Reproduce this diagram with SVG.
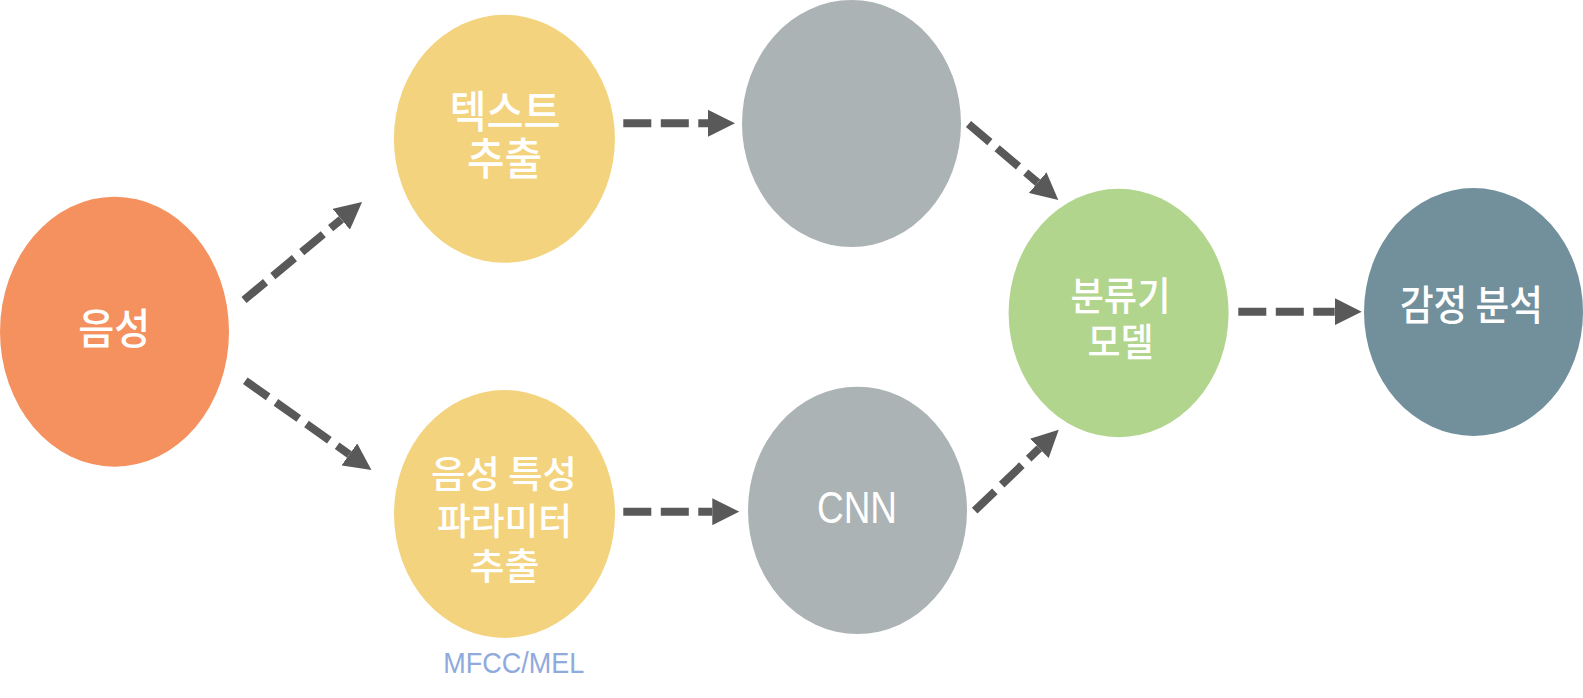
<svg xmlns="http://www.w3.org/2000/svg" width="1583" height="698" viewBox="0 0 1583 698">
<defs>
<marker id="ah" markerUnits="userSpaceOnUse" markerWidth="27" markerHeight="27" refX="0" refY="13.5" orient="auto">
<path d="M0,0 L27,13.5 L0,27 Z" fill="#595959"/>
</marker>
<style>
.kr{font-family:"Noto Sans CJK KR","Noto Sans",sans-serif;font-weight:500;fill:#ffffff;text-anchor:middle}
.en{font-family:"Liberation Sans",Arial,sans-serif;text-anchor:middle}
.conn line{stroke:#595959;stroke-width:8;stroke-dasharray:28 9.5;fill:none;marker-end:url(#ah)}
</style>
</defs>
<rect width="1583" height="698" fill="#ffffff"/>
<g class="conn" id="connectors">
<line x1="244" y1="300" x2="341.3" y2="219.3"/>
<line x1="245.3" y1="380.7" x2="349.4" y2="454.4"/>
<line x1="623.3" y1="123.3" x2="708" y2="123.3"/>
<line x1="623.3" y1="511.7" x2="712.3" y2="511.7"/>
<line x1="968.5" y1="124" x2="1037.7" y2="182.6"/>
<line x1="974.7" y1="510.7" x2="1039.3" y2="448.4"/>
<line x1="1238.3" y1="311.7" x2="1334.7" y2="311.7"/>
</g>
<g id="node-voice">
<ellipse cx="114.5" cy="331.7" rx="114.5" ry="135" fill="#F5905F"/>
<text class="kr" x="114.2" y="343.6" font-size="42" textLength="72" lengthAdjust="spacingAndGlyphs">음성</text>
</g>
<g id="node-text-extract">
<ellipse cx="504.4" cy="138.8" rx="110.5" ry="124" fill="#F3D37E"/>
<text class="kr" font-size="44"><tspan x="505" y="128" textLength="111" lengthAdjust="spacingAndGlyphs">텍스트</tspan><tspan x="504.5" y="174.5" textLength="75" lengthAdjust="spacingAndGlyphs">추출</tspan></text>
</g>
<g id="node-feature-extract">
<ellipse cx="504.5" cy="514" rx="110.5" ry="124" fill="#F3D37E"/>
<text class="kr" font-size="37"><tspan x="504" y="488" textLength="146" lengthAdjust="spacingAndGlyphs">음성 특성</tspan><tspan x="504.5" y="535" textLength="135" lengthAdjust="spacingAndGlyphs">파라미터</tspan><tspan x="504.5" y="580" textLength="70" lengthAdjust="spacingAndGlyphs">추출</tspan></text>
</g>
<text class="en" x="513.8" y="673.3" font-size="28.8" fill="#8FAADC" textLength="141" lengthAdjust="spacingAndGlyphs">MFCC/MEL</text>
<g id="node-gray-top">
<ellipse cx="851.5" cy="123.5" rx="109.5" ry="123.5" fill="#ABB3B5"/>
</g>
<g id="node-cnn">
<ellipse cx="857.5" cy="510.4" rx="109.5" ry="123.7" fill="#ABB3B5"/>
<text class="en" x="857" y="522.7" font-size="44.7" fill="#ffffff" textLength="80" lengthAdjust="spacingAndGlyphs">CNN</text>
</g>
<g id="node-classifier">
<ellipse cx="1118.6" cy="313" rx="110" ry="124.2" fill="#B2D58D"/>
<text class="kr" font-size="39"><tspan x="1120.5" y="309.8" textLength="100" lengthAdjust="spacingAndGlyphs">분류기</tspan><tspan x="1120.5" y="356.4" textLength="66" lengthAdjust="spacingAndGlyphs">모델</tspan></text>
</g>
<g id="node-emotion">
<ellipse cx="1473.5" cy="312" rx="109.5" ry="124" fill="#728F9C"/>
<text class="kr" x="1471.4" y="319.7" font-size="41" textLength="143" lengthAdjust="spacingAndGlyphs">감정 분석</text>
</g>
</svg>
